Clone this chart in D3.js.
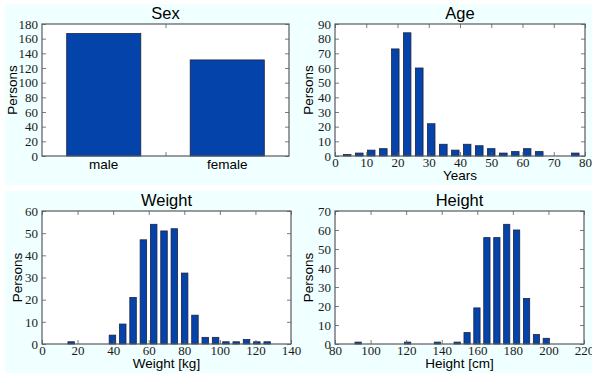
<!DOCTYPE html>
<html>
<head>
<meta charset="utf-8">
<script src="https://cdn.jsdelivr.net/npm/d3@7"></script>
<style>
  html, body { margin: 0; padding: 0; background: #ffffff; }
  svg { display: block; }
  .tick text { font-family: "Liberation Serif", "DejaVu Serif", serif; }
</style>
</head>
<body>
<div id="chart"></div>
<script>
// data
const sexCategories = ["male", "female"];
const sexCounts = [167, 131];

const ageEdges = [2.0, 5.8, 9.7, 13.5, 17.4, 21.2, 25.0, 28.9, 32.7, 36.6, 40.4,
                  44.2, 48.1, 51.9, 55.8, 59.6, 63.4, 67.3, 71.1, 75.0, 78.8];
const ageCounts = [1, 2, 4, 5, 73, 84, 60, 22, 8, 4, 8, 7, 5, 2, 3, 5, 3, 0, 0, 2];

const weightEdges = [13.5, 19.3, 25.1, 30.9, 36.7, 42.5, 48.3, 54.1, 59.9, 65.7, 71.5,
                     77.3, 83.1, 88.9, 94.7, 100.5, 106.3, 112.1, 117.9, 123.7, 129.5];
const weightCounts = [1, 0, 0, 0, 4, 9, 21, 47, 54, 51, 52, 32, 13, 3, 3, 1, 1, 2, 1, 1];

const heightEdges = [90.2, 95.8, 101.3, 106.9, 112.5, 118.1, 123.6, 129.2, 134.8, 140.3, 145.9,
                     151.5, 157.0, 162.6, 168.2, 173.8, 179.3, 184.9, 190.5, 196.0, 201.6];
const heightCounts = [1, 0, 0, 0, 0, 1, 0, 0, 1, 0, 1, 6, 19, 56, 56, 63, 60, 24, 5, 3];

const ageTicks = [0, 10, 20, 30, 40, 50, 60, 70, 80];
const weightTicks = [0, 20, 40, 60, 80, 100, 120, 140];
const heightTicks = [80, 100, 120, 140, 160, 180, 200, 220];

const W = 592, H = 375;
const barFill = "#0444aa", barEdge = "#1c2340";
const spineColor = "#5a5a5a";
const serif = "Liberation Serif";
const sans = "Liberation Sans";

const svg = d3.select("#chart").append("svg")
    .attr("width", W).attr("height", H);

// figure background bands
svg.append("rect").attr("x", 5).attr("y", 4).attr("width", W - 5).attr("height", 181)
    .attr("fill", "#f0ffff");
svg.append("rect").attr("x", 5).attr("y", 191).attr("width", W - 5).attr("height", 182)
    .attr("fill", "#f0ffff");

function panel(box, x, y, yTicks, opts) {
  var g = svg.append("g");
  g.append("rect")
    .attr("x", box.left).attr("y", box.top)
    .attr("width", box.right - box.left).attr("height", box.bottom - box.top)
    .attr("fill", "#ffffff");

  var marks = g.append("g");

  // ticks, inward on all four sides
  var left = d3.axisLeft(y).tickValues(yTicks).tickSize(-4).tickPadding(4);
  var right = d3.axisRight(y).tickValues(yTicks).tickSize(-4).tickFormat("");
  var bottom = d3.axisBottom(x).tickValues(opts.xTicks).tickSize(-4).tickPadding(2);
  var top = d3.axisTop(x).tickValues(opts.xTicks).tickSize(-4).tickFormat("");
  if (opts.xFormat) bottom.tickFormat(opts.xFormat);

  var axes = [
    g.append("g").attr("transform", "translate(" + box.left + ",0)").call(left),
    g.append("g").attr("transform", "translate(" + box.right + ",0)").call(right),
    g.append("g").attr("transform", "translate(0," + box.bottom + ")").call(bottom),
    g.append("g").attr("transform", "translate(0," + box.top + ")").call(top)
  ];
  axes.forEach(function(a) {
    a.attr("font-family", serif).attr("font-size", 13);
    a.select(".domain").remove();
    a.selectAll("line").attr("stroke", spineColor).attr("stroke-width", 0.8);
    a.selectAll("text").attr("fill", "#1a1a1a");
  });

  g.append("rect")
    .attr("x", box.left).attr("y", box.top)
    .attr("width", box.right - box.left).attr("height", box.bottom - box.top)
    .attr("fill", "none").attr("stroke", spineColor).attr("stroke-width", 1.2);

  // title
  g.append("text")
    .attr("x", (box.left + box.right) / 2).attr("y", box.top - 5)
    .attr("text-anchor", "middle")
    .attr("font-family", sans).attr("font-size", 16.5)
    .text(opts.title);

  // y label
  g.append("text")
    .attr("transform", "translate(" + opts.yLabelX + "," + ((box.top + box.bottom) / 2) + ") rotate(-90)")
    .attr("text-anchor", "middle")
    .attr("font-family", sans).attr("font-size", 13.5)
    .text("Persons");

  if (opts.xLabel) {
    g.append("text")
      .attr("x", (box.left + box.right) / 2).attr("y", box.bottom + 24)
      .attr("text-anchor", "middle")
      .attr("font-family", sans).attr("font-size", 13.5)
      .text(opts.xLabel);
  }
  return marks;
}

function histPanel(box, edges, counts, xDomain, yMax, yStep, opts) {
  var x = d3.scaleLinear().domain(xDomain).range([box.left, box.right]);
  var y = d3.scaleLinear().domain([0, yMax]).range([box.bottom, box.top]);
  opts.xFormat = d3.format("d");
  var marks = panel(box, x, y, d3.range(0, yMax + 1, yStep), opts);
  var bins = counts.map(function(c, i) { return {x0: edges[i], x1: edges[i + 1], n: c}; })
    .filter(function(d) { return d.n > 0; });
  var rw = 0.63;
  marks.selectAll("rect")
    .data(bins)
    .enter().append("rect")
    .attr("x", function(d) { return x(d.x0 + (d.x1 - d.x0) * (1 - rw) / 2); })
    .attr("width", function(d) { return x(d.x0 + (d.x1 - d.x0) * rw) - x(d.x0); })
    .attr("y", function(d) { return y(d.n); })
    .attr("height", function(d) { return y(0) - y(d.n); })
    .attr("fill", barFill)
    .attr("stroke", barEdge)
    .attr("stroke-width", 0.8);
}

// Sex
(function() {
  var box = {left: 42, right: 289, top: 24, bottom: 156};
  var x = d3.scaleLinear().domain([-0.5, 1.5]).range([box.left, box.right]);
  var y = d3.scaleLinear().domain([0, 180]).range([box.bottom, box.top]);
  var marks = panel(box, x, y, d3.range(0, 181, 20),
      {title: "Sex", yLabelX: 17, xTicks: [0.5], xFormat: function() { return ""; }});
  marks.selectAll("rect")
    .data(sexCounts)
    .enter().append("rect")
    .attr("x", function(d, i) { return x(i - 0.3); })
    .attr("width", x(0.3) - x(-0.3))
    .attr("y", function(d) { return y(d); })
    .attr("height", function(d) { return y(0) - y(d); })
    .attr("fill", barFill)
    .attr("stroke", barEdge)
    .attr("stroke-width", 0.8);
  svg.selectAll(".sexLabel")
    .data(sexCategories)
    .enter().append("text")
    .attr("class", "sexLabel")
    .attr("x", function(d, i) { return x(i); })
    .attr("y", box.bottom + 13)
    .attr("text-anchor", "middle")
    .attr("font-family", sans).attr("font-size", 13.5)
    .text(function(d) { return d; });
})();

histPanel({left: 335, right: 585, top: 24, bottom: 156}, ageEdges, ageCounts, [0, 80], 90, 10,
    {title: "Age", yLabelX: 313, xTicks: ageTicks, xLabel: "Years"});
histPanel({left: 42, right: 291, top: 211, bottom: 344}, weightEdges, weightCounts, [0, 140], 60, 10,
    {title: "Weight", yLabelX: 22, xTicks: weightTicks, xLabel: "Weight [kg]"});
histPanel({left: 335, right: 584, top: 211, bottom: 344}, heightEdges, heightCounts, [80, 220], 70, 10,
    {title: "Height", yLabelX: 313, xTicks: heightTicks, xLabel: "Height [cm]"});
</script>
</body>
</html>
